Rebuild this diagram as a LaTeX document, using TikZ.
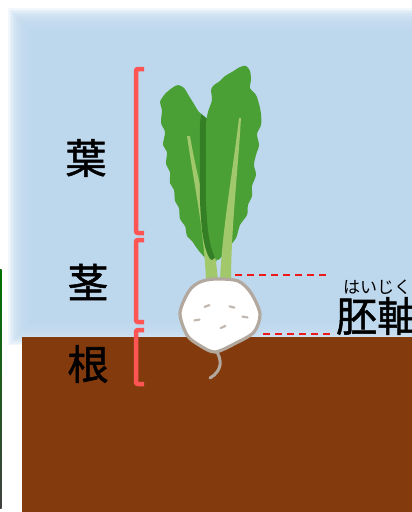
\documentclass[tikz,border=0pt]{standalone}
\usepackage{fontspec}
\newfontfamily\jpfont[FakeBold=1.3]{Noto Sans CJK JP}
\newfontfamily\rubyfont{Noto Sans CJK JP}
\usetikzlibrary{positioning}
\definecolor{SkyColor}{RGB}{189,215,237}
\definecolor{SoilColor}{RGB}{131,59,14}
\definecolor{LeafColor}{RGB}{74,160,52}
\definecolor{LeafShadeColor}{RGB}{52,126,38}
\definecolor{StemColor}{RGB}{162,200,108}
\definecolor{TurnipEdgeColor}{RGB}{178,168,158}
\definecolor{BracketColor}{RGB}{255,84,84}
\definecolor{GuideColor}{RGB}{240,25,25}
\tikzset{
  organ/.style={font=\jpfont\fontsize{41}{41}\selectfont, inner sep=0pt},
  ruby/.style={font=\rubyfont\fontsize{17}{17}\selectfont, inner sep=0pt},
  bracket/.style={BracketColor, line width=4.5pt, rounded corners=2pt},
  guide/.style={GuideColor, line width=2.4pt, dash pattern=on 7pt off 5pt},
  leaf/.style={fill=LeafColor},
  midrib/.style={fill=StemColor},
  turnip/.style={fill=white, draw=TurnipEdgeColor, line width=3.2pt},
  spot/.style={TurnipEdgeColor!80, line width=2.2pt, line cap=round}
}
% leaf outlines
\newcommand{\leftleaf}{plot[smooth cycle] coordinates {(210,262) (199,251) (192,241)
  (187,236) (185,226) (180,219) (179,208) (175,201) (174,190) (170,183) (170,172)
  (166,164) (167,152) (163,145) (165,132) (161,123) (162,110) (160,102) (165,94)
  (172,88) (178,85) (184,88) (189,96) (194,104) (199,112) (206,118) (214,130)
  (218,200) (217,258)}}
\newcommand{\rightleaf}{plot[smooth cycle] coordinates {(218,260) (212,250) (208,230)
  (206,200) (206,160) (206,125) (208,112) (212,100) (211,90) (214,85) (220,81)
  (225,76) (232,72) (240,67) (246,66) (250,71) (251,80) (250,88) (256,95) (259,104)
  (261,114) (261,125) (257,134) (259,145) (256,155) (254,165) (256,175) (252,186)
  (252,196) (248,205) (247,215) (240,225) (236,238) (228,248)}}

\begin{document}
\begin{tikzpicture}[x=1pt, y=-1pt]
  \useasboundingbox (0,0) rectangle (412,512);

  % sky with soft edges
  \foreach \i in {0,...,14}
    \fill[SkyColor, opacity=0.2] ({8+1.5*\i},{8+1.5*\i}) rectangle (420,{345-1.5*\i});
  \fill[SkyColor] (30,30) rectangle (420,323);

  % soil
  \fill[SoilColor] (22,337) rectangle (412,512);
  \shade[top color=green!45!black, bottom color=black!75] (0,269) rectangle (1.5,508);

  % leaves
  \fill[leaf] \leftleaf;
  \fill[midrib] (187,136) .. controls (195,190) and (204,230) .. (206,281)
    -- (218,281) .. controls (214,230) and (199,190) .. (190,136) -- cycle;
  \begin{scope}
    \clip \leftleaf;
    \fill[LeafShadeColor, xshift=-6pt] \rightleaf;
  \end{scope}
  \fill[leaf] \rightleaf;
  \fill[midrib] (239,118) .. controls (233,170) and (222,230) .. (220,281)
    -- (231,281) .. controls (231,230) and (238,170) .. (241,118) -- cycle;

  % turnip
  \draw[TurnipEdgeColor, line width=3pt, line cap=round]
    (215,349) .. controls (223,360) and (222,371) .. (210,378);
  \draw[turnip] plot[smooth cycle] coordinates {(215,279) (238,281) (251,293)
    (260,314) (254,332) (236,343) (215,352) (199,345) (187,335) (180,313)
    (189,291) (200,282)};
  \foreach \x/\y/\a in {207/306/20, 232/307/-15, 197/320/10, 223/327/25, 245/317/-10}
    \draw[spot, rotate around={\a:(\x,\y)}] (\x-2.5,\y) -- (\x+2.5,\y);

  % organ labels and brackets
  \node[organ] (ha) at (86,158) {葉};
  \node[organ] (kuki) at (88,282) {茎};
  \node[organ] (ne) at (88,364) {根};
  \draw[bracket] (144,69) -- (136,69) -- (136,233) -- (144,233);
  \draw[bracket] (144,240) -- (136,240) -- (136,322) -- (144,322);
  \draw[bracket] (144,330) -- (136,330) -- (136,384) -- (144,384);

  % hypocotyl
  \node[organ, anchor=west] (hypo) at (336,316) {胚軸};
  \node[ruby, anchor=south west] (yomi) at ([xshift=7pt, yshift=2pt]hypo.north west) {はいじく};
  \coordinate (neck) at (235,275);
  \coordinate (neckend) at (327,275);
  \coordinate (base) at (263,334);
  \coordinate (baseend) at (332,334);
  \draw[guide] (neck) -- (neckend);
  \draw[guide] (base) -- (baseend);
\end{tikzpicture}
\end{document}
